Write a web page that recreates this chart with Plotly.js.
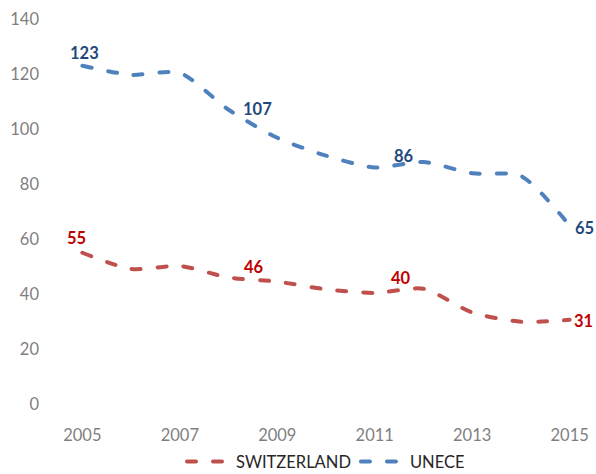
<!DOCTYPE html>
<html>
<head>
<meta charset="utf-8">
<script src="https://cdn.plot.ly/plotly-3.0.1.min.js"></script>
<style>html,body{margin:0;padding:0;background:#fff;}#chart{width:596px;height:474px;}
path.js-line{stroke-linecap:round !important;}</style>
</head>
<body>
<div id="chart"></div>
<script>
const years = [2005, 2006, 2007, 2008, 2009, 2010, 2011, 2012, 2013, 2014, 2015];
const switzerland = [55, 49.1, 50.2, 46, 44.5, 41.7, 40.4, 41.9, 33.3, 29.9, 30.6];
const unece = [123, 119.7, 120.4, 107, 96.8, 90.3, 86, 88, 83.9, 82.9, 64.9];
const seriesNames = ['SWITZERLAND', 'UNECE'];
const labelYears = [2005, 2008, 2011, 2015];
const switzerlandLabels = ['55', '46', '40', '31'];
const uneceLabels = ['123', '107', '86', '65'];
const xTicks = [2005, 2007, 2009, 2011, 2013, 2015];
const yTicks = [0, 20, 40, 60, 80, 100, 120, 140];

const swShift = [[-6, 15], [25, 11], [26, 15], [14, -1]];
const unShift = [[2, 13], [29, 1], [29, 12], [15, -2]];

function lineTrace(name, ys, color) {
  return {
    x: years, y: ys, name: name, type: 'scatter', mode: 'lines',
    line: {color: color, width: 4, dash: '9px,17px', shape: 'spline', smoothing: 0.7},
    hoverinfo: 'skip'
  };
}

const annotations = [];
labelYears.forEach((yr, i) => {
  const idx = years.indexOf(yr);
  annotations.push({x: yr, y: switzerland[idx], text: '<b>' + switzerlandLabels[i] + '</b>', showarrow: false,
    xanchor: 'center', yanchor: 'middle', xshift: swShift[i][0], yshift: swShift[i][1],
    font: {family: 'Lato, sans-serif', size: 16.5, color: '#C00000'}});
  annotations.push({x: yr, y: unece[idx], text: '<b>' + uneceLabels[i] + '</b>', showarrow: false,
    xanchor: 'center', yanchor: 'middle', xshift: unShift[i][0], yshift: unShift[i][1],
    font: {family: 'Lato, sans-serif', size: 16.5, color: '#1F497D'}});
});

const data = [
  lineTrace(seriesNames[0], switzerland, '#C0504D'),
  lineTrace(seriesNames[1], unece, '#4F81BD')
];

const layout = {
  width: 596, height: 474,
  margin: {l: 58, r: 2, t: 19, b: 70, autoexpand: false},
  paper_bgcolor: '#fff', plot_bgcolor: '#fff',
  font: {family: 'Lato, sans-serif', size: 16, color: '#7F7F7F'},
  xaxis: {range: [2004.5, 2015.5], tickvals: xTicks, ticktext: xTicks.map(String),
    showgrid: false, zeroline: false, showline: false, ticks: '', ticklabelstandoff: 19,
    tickfont: {size: 16.5, color: '#7F7F7F'}, automargin: false},
  yaxis: {range: [0, 140], tickvals: yTicks, showgrid: false, zeroline: false, showline: false,
    ticks: '', ticklabelstandoff: 18, tickfont: {size: 16.5, color: '#7F7F7F'}, automargin: false},
  showlegend: true,
  legend: {orientation: 'h', x: 0.5, xanchor: 'center', y: -0.15, yanchor: 'middle',
    itemwidth: 44, font: {size: 16.5, color: '#262626'}},
  annotations: annotations
};

Plotly.newPlot('chart', data, layout, {displayModeBar: false, staticPlot: true});
</script>
</body>
</html>
